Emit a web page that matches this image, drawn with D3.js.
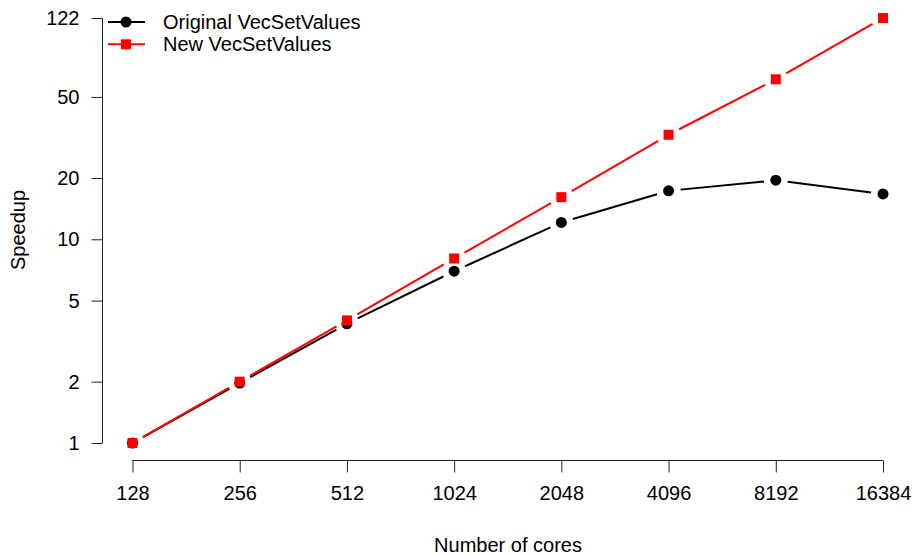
<!DOCTYPE html>
<html>
<head>
<meta charset="utf-8">
<script src="https://cdn.jsdelivr.net/npm/d3@7"></script>
<style>
  html, body { margin: 0; padding: 0; background: #fff; }
  svg { display: block; font-family: "Liberation Sans", Arial, Helvetica, sans-serif; }
</style>
</head>
<body>
<svg id="chart" width="912" height="556"></svg>
<script>
// Core counts on the x axis (log2 spacing)
const cores = [128, 256, 512, 1024, 2048, 4096, 8192, 16384];
// Speedup relative to 128 cores
const originalSpeedup = [1, 1.97, 3.85, 6.97, 12.1, 17.3, 19.5, 16.7];
const newSpeedup = [1, 2, 4, 8.05, 16.1, 32.6, 61, 122];
// Tick labels for the log y axis
const yTicks = [1, 2, 5, 10, 20, 50, 122];

const seriesNames = ["Original VecSetValues", "New VecSetValues"];
const seriesColors = ["#000000", "#ff0000"];

const svg = d3.select("#chart");
const fontSize = 20;

// Scales
const x = d3.scaleLog().base(2).domain([128, 16384]).range([132.5, 883]);
const y = d3.scaleLog().domain([1, 122]).range([443, 18]);

const plotLeft = 102.5, plotBottom = 460.5;

// Y axis
const yAxis = d3.axisLeft(y).tickValues(yTicks).tickFormat(d3.format("d")).tickSizeOuter(0).tickSize(11).tickPadding(12);
const gy = svg.append("g").attr("transform", `translate(${plotLeft},0)`).call(yAxis);
gy.select(".domain").attr("d", `M0,${y(1)}V${y(122)}`).attr("stroke", "#222");
gy.selectAll(".tick line").attr("stroke", "#222");
gy.selectAll(".tick text").attr("font-size", fontSize).attr("font-family", "Liberation Sans, Arial, sans-serif").attr("fill", "#000");

// X axis
const xAxis = d3.axisBottom(x).tickValues(cores).tickFormat(d3.format("d")).tickSizeOuter(0).tickSize(12).tickPadding(13);
const gx = svg.append("g").attr("transform", `translate(0,${plotBottom})`).call(xAxis);
gx.select(".domain").attr("d", `M${x(128)},0H${x(16384)}`).attr("stroke", "#222");
gx.selectAll(".tick line").attr("stroke", "#222");
gx.selectAll(".tick text").attr("font-size", fontSize).attr("font-family", "Liberation Sans, Arial, sans-serif").attr("fill", "#000");

// Axis titles
svg.append("text")
  .attr("x", 508).attr("y", 552)
  .attr("text-anchor", "middle")
  .attr("font-size", fontSize)
  .text("Number of cores");

svg.append("text")
  .attr("transform", "translate(25,230) rotate(-90)")
  .attr("text-anchor", "middle")
  .attr("font-size", fontSize)
  .text("Speedup");

// Line segments with gaps around each marker (points-and-lines style)
const gap = 12;
function drawSeries(values, color, shape) {
  const pts = cores.map((c, i) => [x(c), y(values[i])]);
  const g = svg.append("g");
  for (let i = 0; i < pts.length - 1; i++) {
    const [x0, y0] = pts[i], [x1, y1] = pts[i + 1];
    const dx = x1 - x0, dy = y1 - y0, len = Math.hypot(dx, dy);
    if (len <= 2 * gap) continue;
    const ux = dx / len, uy = dy / len;
    g.append("line")
      .attr("x1", x0 + ux * gap).attr("y1", y0 + uy * gap)
      .attr("x2", x1 - ux * gap).attr("y2", y1 - uy * gap)
      .attr("stroke", color).attr("stroke-width", 2);
  }
  pts.forEach(([px, py]) => drawMarker(g, px, py, color, shape));
}

function drawMarker(g, px, py, color, shape) {
  if (shape === "circle") {
    g.append("circle").attr("cx", px).attr("cy", py).attr("r", 5.5).attr("fill", color);
  } else {
    g.append("rect").attr("x", px - 5).attr("y", py - 5).attr("width", 10).attr("height", 10).attr("fill", color);
  }
}

drawSeries(originalSpeedup, seriesColors[0], "circle");
drawSeries(newSpeedup, seriesColors[1], "square");

// Legend
const legend = svg.append("g");
const legendShapes = ["circle", "square"];
seriesNames.forEach((name, i) => {
  const ly = 22 + i * 22.3;
  legend.append("line")
    .attr("x1", 108).attr("x2", 145).attr("y1", ly).attr("y2", ly)
    .attr("stroke", seriesColors[i]).attr("stroke-width", 2);
  drawMarker(legend, 126, ly, seriesColors[i], legendShapes[i]);
  legend.append("text")
    .attr("x", 163).attr("y", ly)
    .attr("dy", "0.35em")
    .attr("font-size", fontSize)
    .text(name);
});
</script>
</body>
</html>
